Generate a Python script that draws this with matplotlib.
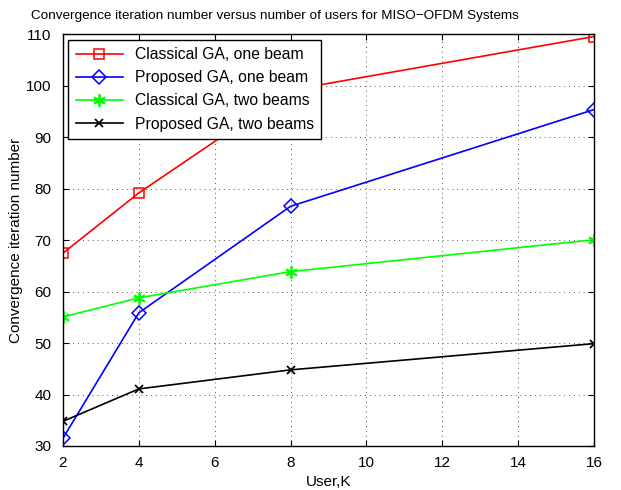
import matplotlib
matplotlib.use("Agg")
import matplotlib.pyplot as plt

plt.rcParams['font.family'] = ['Liberation Sans', 'DejaVu Sans']

users = [2, 4, 8, 16]
classical_one = [67.5, 79.2, 99.2, 109.6]
proposed_one = [31.5, 55.9, 76.6, 95.4]
classical_two = [55.1, 58.8, 63.9, 70.1]
proposed_two = [34.8, 41.1, 44.8, 49.9]

labels = ["Classical GA, one beam", "Proposed GA, one beam",
          "Classical GA, two beams", "Proposed GA, two beams"]
xticks = [2, 4, 6, 8, 10, 12, 14, 16]
yticks = [30, 40, 50, 60, 70, 80, 90, 100, 110]

fig = plt.figure(figsize=(6.21, 4.90), dpi=100)
ax = fig.add_axes([0.1014, 0.0898, 0.8551, 0.8398])

ax.plot(users, classical_one, color='#ff0000', marker='s', markersize=7,
        markerfacecolor='none', markeredgewidth=1.1, lw=1.2, label=labels[0])
ax.plot(users, proposed_one, color='#0000ff', marker='D', markersize=7,
        markerfacecolor='none', markeredgewidth=1.1, lw=1.2, label=labels[1])
ax.plot(users, classical_two, color='#00ff00', marker=(6, 2, 0), markersize=9,
        markeredgewidth=1.3, lw=1.2, label=labels[2])
ax.plot(users, proposed_two, color='black', marker='x', markersize=6,
        markeredgewidth=1.3, lw=1.2, label=labels[3])

ax.set_xlim(2, 16)
ax.set_ylim(30, 110)
ax.set_xticks(xticks)
ax.set_yticks(yticks)
ax.tick_params(direction='in', length=4, labelsize=11, top=True, right=True, width=0.8)
ax.tick_params(axis='x', pad=7.5)
ax.tick_params(axis='y', pad=8.5)
ax.grid(True, linestyle=(0, (1, 4)), color='#555555', linewidth=0.7)
for s in ax.spines.values():
    s.set_linewidth(1.0)

ax.set_xlabel("User,K", fontsize=11, labelpad=3)
ax.set_ylabel("Convergence iteration number", fontsize=11, labelpad=2)
ax.set_title("Convergence iteration number versus number of users for MISO\u2212OFDM Systems",
             fontsize=9.7, pad=11, x=0.4)

leg = ax.legend(loc='upper left', fontsize=11.3, handlelength=3.0, frameon=True,
                fancybox=False, edgecolor='black', framealpha=1,
                borderaxespad=0.35, labelspacing=0.52, borderpad=0.45)
leg.get_frame().set_linewidth(1.0)

fig.savefig("out.png", dpi=100)
